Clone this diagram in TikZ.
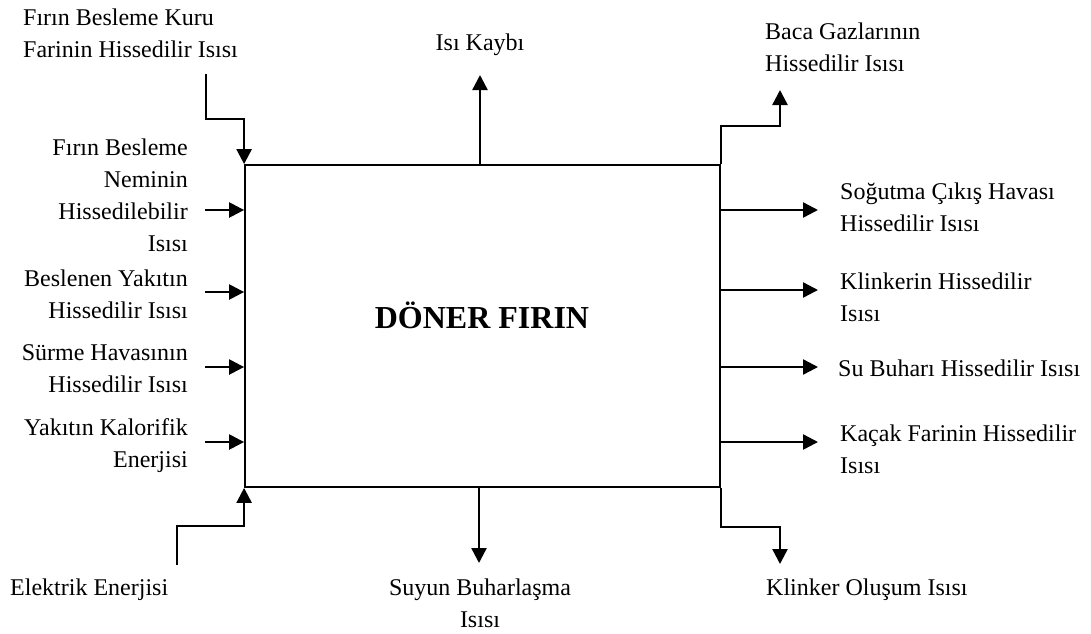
\documentclass[tikz,border=0pt]{standalone}
\usepackage{fontspec}
\setmainfont{Liberation Serif}
\usetikzlibrary{arrows.meta}
\begin{document}
\begin{tikzpicture}[x=1pt,y=-1pt,
  lbl/.style={inner sep=0pt, font=\fontsize{24}{32}\selectfont},
  arr/.style={line width=2.4pt, -{Triangle[length=15pt,width=15pt]}},
  plain/.style={line width=2.4pt},
  kilnbox/.style={draw, line width=1.8pt, minimum width=475pt, minimum height=322pt, inner sep=0pt}]
\useasboundingbox (0,0) rectangle (1091,633);
\node[kilnbox] (kiln) at (482.5,326) {};
\node[inner sep=0pt, font=\fontsize{32}{36}\selectfont\bfseries] (title) at (482,315) {DÖNER FIRIN};

% labels
\node[lbl, anchor=west, align=left] (L0) at (23,33) {Fırın Besleme Kuru\\Farinin Hissedilir Isısı};
\node[lbl, anchor=east, align=right] (L1) at (188,195) {Fırın Besleme\\Neminin\\Hissedilebilir\\Isısı};
\node[lbl, anchor=east, align=right] (L2) at (188,294) {Beslenen Yakıtın\\Hissedilir Isısı};
\node[lbl, anchor=east, align=right] (L3) at (188,369) {Sürme Havasının\\Hissedilir Isısı};
\node[lbl, anchor=east, align=right] (L4) at (188,446) {Yakıtın Kalorifik\\Enerjisi};
\node[lbl, anchor=west] (L5) at (10,590) {Elektrik Enerjisi};
\node[lbl] (T) at (480,45) {Isı Kaybı};
\node[lbl, align=center] (B) at (480,603) {Suyun Buharlaşma\\Isısı};
\node[lbl, anchor=west, align=left] (R0) at (765,47) {Baca Gazlarının\\Hissedilir Isısı};
\node[lbl, anchor=west, align=left] (R1) at (840,207) {Soğutma Çıkış Havası\\Hissedilir Isısı};
\node[lbl, anchor=west, align=left] (R2) at (840,297) {Klinkerin Hissedilir\\Isısı};
\node[lbl, anchor=west] (R3) at (838,368) {Su Buharı Hissedilir Isısı};
\node[lbl, anchor=west, align=left] (R4) at (840,449) {Kaçak Farinin Hissedilir\\Isısı};
\node[lbl, anchor=west] (R5) at (766,590) {Klinker Oluşum Isısı};

% connector ends
\coordinate (s0) at (206,74);
\coordinate (s5) at (177,565);
\coordinate (t0) at (480,75);
\coordinate (b0) at (479,563);
\coordinate (r0) at (780,90);
\coordinate (r5) at (780,564);
\coordinate (w1) at (205,210);
\coordinate (w2) at (205,292);
\coordinate (w3) at (205,367);
\coordinate (w4) at (205,442);
\coordinate (e1) at (818,210);
\coordinate (e2) at (818,290);
\coordinate (e3) at (818,367);
\coordinate (e4) at (818,442);

% connectors
\draw[arr] (s0) -- ++(0,45) -| (kiln.north west);
\draw[arr] (s5) -- ++(0,-39) -| (kiln.south west);
\draw[arr] (t0 |- kiln.north) -- (t0);
\draw[arr] (b0 |- kiln.south) -- (b0);
\draw[arr] (kiln.north east) -- ++(0,-38) -| (r0);
\draw[arr] (kiln.south east) -- ++(0,39) -| (r5);
\foreach \w in {w1,w2,w3,w4} \draw[arr] (\w) -- (\w -| kiln.west);
\foreach \e in {e1,e2,e3,e4} \draw[arr] (\e -| kiln.east) -- (\e);
\end{tikzpicture}
\end{document}
